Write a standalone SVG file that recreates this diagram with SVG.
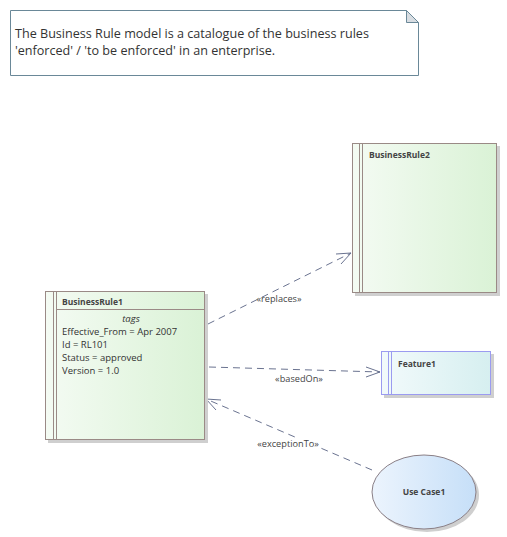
<svg xmlns="http://www.w3.org/2000/svg" width="507" height="537" viewBox="0 0 507 537">
<style>
text{font-family:"Open Sans","Noto Sans","DejaVu Sans",sans-serif;fill:#333}
.nm{font-size:8.5px;font-weight:bold;fill:#444}
.tg{font-size:9.5px;fill:#333}
.lb{font-size:9.2px;fill:#444}
.note{font-size:12.6px;fill:#333}
.br{stroke:#9a8a86;stroke-width:1}
.sh{fill:#cfcfcf}
.con{stroke:#6a7390;stroke-width:1;stroke-dasharray:7,5;fill:none}
.ah{stroke:#6a7390;stroke-width:1;fill:none}
</style>
<defs>
<linearGradient id="gG" x1="0" y1="0" x2="1" y2="0"><stop offset="0" stop-color="#f4fbf3"/><stop offset="1" stop-color="#daf2d6"/></linearGradient>
<linearGradient id="gC" x1="0" y1="0" x2="1" y2="0"><stop offset="0" stop-color="#f2fafb"/><stop offset="1" stop-color="#d6eff0"/></linearGradient>
<linearGradient id="gB" x1="0" y1="0" x2="1" y2="0"><stop offset="0" stop-color="#ecf4fd"/><stop offset="1" stop-color="#c6dff8"/></linearGradient>
</defs>
<g id="note">
<path d="M10.5,10.5 H406.5 L418.5,22.5 V75.5 H10.5 Z" fill="#fff" stroke="#6a8898"/>
<path d="M406.5,10.5 V22.5 H418.5 Z" fill="#d8dde2" stroke="#6a8898"/>
<text class="note" x="15" y="38">The Business Rule model is a catalogue of the business rules</text>
<text class="note" x="15" y="55">'enforced' / 'to be enforced' in an enterprise.</text>
</g>
<g id="connectors">
<line class="con" x1="208" y1="324" x2="351" y2="253"/>
<polyline class="ah" points="336,254 351,253 341,264"/>
<text class="lb" x="279" y="302" text-anchor="middle">«replaces»</text>
<line class="con" x1="209" y1="367" x2="380" y2="372"/>
<polyline class="ah" points="366,367 380,372 366,377"/>
<text class="lb" x="299" y="382" text-anchor="middle">«basedOn»</text>
<line class="con" x1="372" y1="470" x2="206" y2="399"/>
<polyline class="ah" points="221,400 206,399 216,410"/>
<rect x="258" y="438" width="60" height="11" fill="#fff"/>
<text class="lb" x="288" y="447" text-anchor="middle">«exceptionTo»</text>
</g>
<g id="BusinessRule1">
<rect class="sh" x="48" y="294" width="160" height="149"/>
<rect class="br" x="45.5" y="291.5" width="159" height="148" fill="url(#gG)"/>
<line class="br" x1="53.5" y1="291.5" x2="53.5" y2="439.5"/>
<line class="br" x1="56.5" y1="291.5" x2="56.5" y2="439.5"/>
<line class="br" x1="56.5" y1="309.5" x2="204.5" y2="309.5"/>
<text class="nm" x="62" y="305">BusinessRule1</text>
<text class="tg" x="131" y="322" text-anchor="middle" font-style="italic">tags</text>
<text class="tg" x="62" y="335">Effective_From = Apr 2007</text>
<text class="tg" x="62" y="348">Id = RL101</text>
<text class="tg" x="62" y="361">Status = approved</text>
<text class="tg" x="62" y="374">Version = 1.0</text>
</g>
<g id="BusinessRule2">
<rect class="sh" x="355" y="146" width="145" height="150"/>
<rect class="br" x="352.5" y="143.5" width="144" height="149" fill="url(#gG)"/>
<line class="br" x1="359.5" y1="143.5" x2="359.5" y2="292.5"/>
<line class="br" x1="362.5" y1="143.5" x2="362.5" y2="292.5"/>
<text class="nm" x="369" y="158">BusinessRule2</text>
</g>
<g id="Feature1">
<rect class="sh" x="384" y="354" width="110" height="44"/>
<rect x="381.5" y="351.5" width="109" height="43" fill="url(#gC)" stroke="#9b9bf0"/>
<line x1="388.5" y1="351.5" x2="388.5" y2="394.5" stroke="#9b9bf0"/>
<line x1="391.5" y1="351.5" x2="391.5" y2="394.5" stroke="#9b9bf0"/>
<text class="nm" x="398" y="367">Feature1</text>
</g>
<g id="UseCase1">
<ellipse cx="427" cy="495" rx="52" ry="37" fill="#cfcfcf"/>
<ellipse cx="424" cy="492" rx="52" ry="37" fill="url(#gB)" stroke="#8a7f86"/>
<text class="nm" x="424" y="495" text-anchor="middle">Use Case1</text>
</g>
</svg>
